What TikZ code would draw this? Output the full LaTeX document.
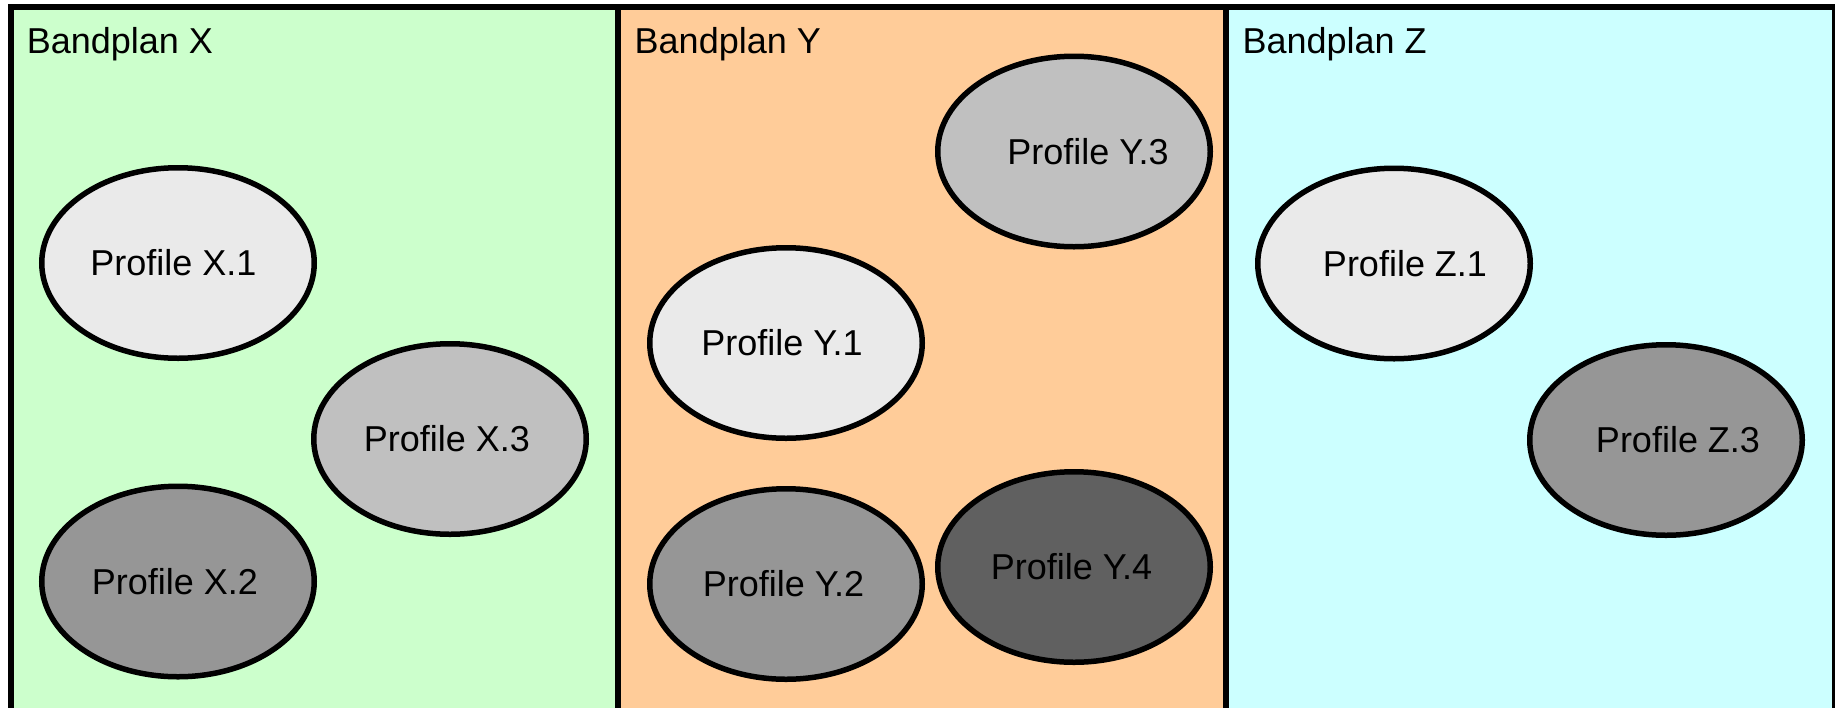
\documentclass[tikz,border=0pt]{standalone}
\usepackage{fontspec}
\setmainfont{Liberation Sans}
\usetikzlibrary{shapes.geometric}
\definecolor{bgX}{HTML}{CCFFCC}
\definecolor{bgY}{HTML}{FFCC99}
\definecolor{bgZ}{HTML}{CCFFFF}
\definecolor{gA}{HTML}{EAEAEA}
\definecolor{gB}{HTML}{C0C0C0}
\definecolor{gC}{HTML}{969696}
\definecolor{gD}{HTML}{606060}
\begin{document}
\begin{tikzpicture}[x=1pt,y=-1pt,
  panel/.style={draw=black,line width=6pt},
  prof/.style={ellipse,draw=black,line width=5.5pt,minimum width=272.5pt,minimum height=190.5pt,inner sep=0pt},
  lbl/.style={font=\fontsize{36}{43}\selectfont,inner sep=0pt,anchor=center},
  ttl/.style={font=\fontsize{36}{43}\selectfont,inner sep=0pt,anchor=base west}]
\fill[white] (0,0) rectangle (1835,707);
\useasboundingbox (0,0) rectangle (1835,707);
\begin{scope}
\clip (0,0) rectangle (1835,707);
\draw[panel,fill=bgX] (10.5,6.7) rectangle (618.3,740);
\draw[panel,fill=bgY] (618.3,6.7) rectangle (1226.1,740);
\draw[panel,fill=bgZ] (1226.1,6.7) rectangle (1834.5,740);
\end{scope}
\node[ttl] (tX) at (26.7,53.3) {Bandplan X};
\node[ttl] (tY) at (634.5,53.3) {Bandplan Y};
\node[ttl] (tZ) at (1242.3,53.3) {Bandplan Z};
% ellipses
\node[prof,fill=gA] (X1) at (178,263) {};
\node[prof,fill=gB] (X3) at (450,439) {};
\node[prof,fill=gC] (X2) at (178,581.5) {};
\node[prof,fill=gB] (Y3) at (1074,151.5) {};
\node[prof,fill=gA] (Y1) at (786,343) {};
\node[prof,fill=gC] (Y2) at (786,584) {};
\node[prof,fill=gD] (Y4) at (1074,567) {};
\node[prof,fill=gA] (Z1) at (1394,263.5) {};
\node[prof,fill=gC] (Z3) at (1666,440) {};
% labels
\node[lbl] (lX1) at ([xshift=-4.5pt]X1.center) {Profile X.1};
\node[lbl] (lX3) at ([xshift=-3pt]X3.center) {Profile X.3};
\node[lbl] (lX2) at ([xshift=-3pt]X2.center) {Profile X.2};
\node[lbl] (lY3) at ([xshift=14pt]Y3.center) {Profile Y.3};
\node[lbl] (lY1) at ([xshift=-4pt]Y1.center) {Profile Y.1};
\node[lbl] (lY2) at ([xshift=-2.5pt]Y2.center) {Profile Y.2};
\node[lbl] (lY4) at ([xshift=-2.5pt]Y4.center) {Profile Y.4};
\node[lbl] (lZ1) at ([xshift=11pt]Z1.center) {Profile Z.1};
\node[lbl] (lZ3) at ([xshift=12pt]Z3.center) {Profile Z.3};
\end{tikzpicture}
\end{document}
